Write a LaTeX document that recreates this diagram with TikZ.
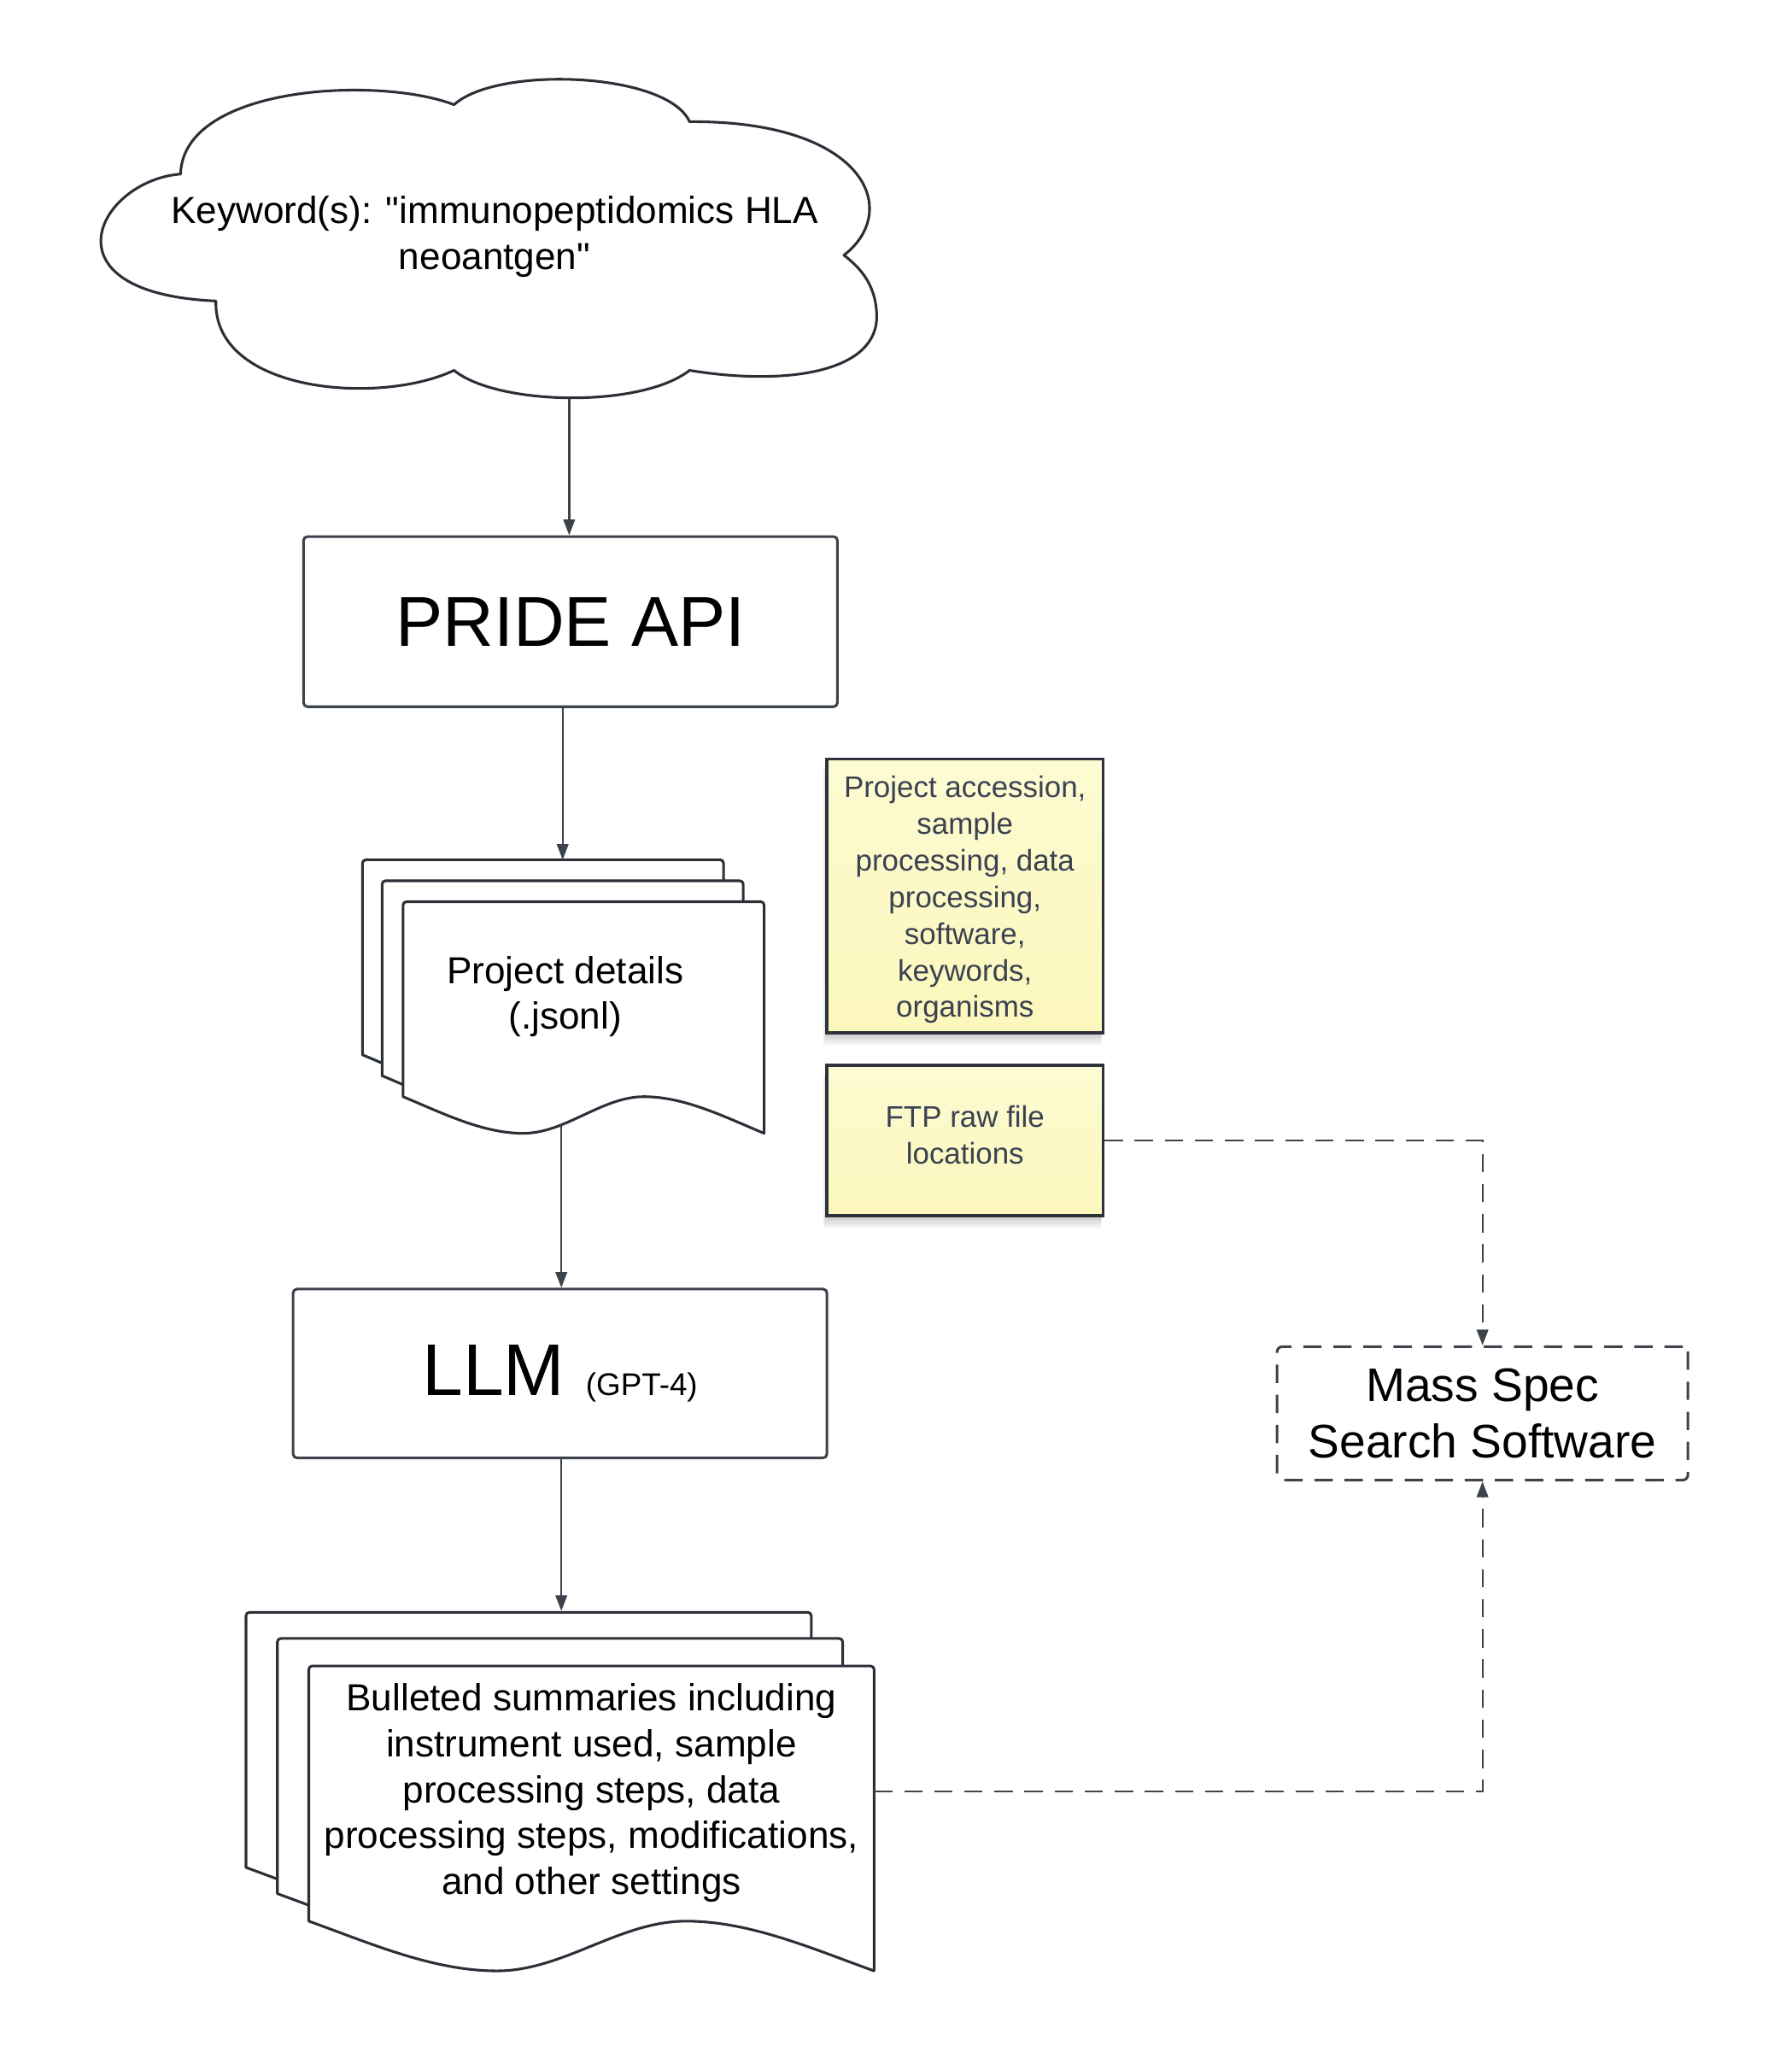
\documentclass[tikz,border=0pt]{standalone}
\usepackage{fontspec}
\setmainfont{Liberation Sans}
\usetikzlibrary{arrows.meta,calc}
\definecolor{lineg}{HTML}{3D434B}
\definecolor{darkl}{HTML}{2B2F36}
\definecolor{noteT}{HTML}{FDFBD2}
\definecolor{noteB}{HTML}{FBF7BC}
\definecolor{notetext}{HTML}{3A4150}
\definecolor{noteedge}{HTML}{2E333B}
\newcommand{\sq}{\XeTeXglyph\XeTeXcharglyph"22\relax}
\newcommand{\docpage}[5]{%
  \filldraw[docline] ({#1},{#2+#4}) [rounded corners=1.3pt] -- ({#1},{#2}) -- ({#1+#3},{#2}) -- ({#1+#3},{#2+8}) [sharp corners] -- ({#1+#3},{#2+#4+#5})
   .. controls ({#1+0.89*#3},{#2+#4+0.55*#5}) and ({#1+0.78*#3},{#2+#4}) .. ({#1+0.667*#3},{#2+#4})
   .. controls ({#1+0.55*#3},{#2+#4}) and ({#1+0.45*#3},{#2+#4+#5}) .. ({#1+0.333*#3},{#2+#4+#5})
   .. controls ({#1+0.22*#3},{#2+#4+#5}) and ({#1+0.11*#3},{#2+#4+0.45*#5}) .. ({#1},{#2+#4}) -- cycle;}
\begin{document}
\begin{tikzpicture}[x=0.5pt,y=-0.5pt,
  cloudline/.style={draw=darkl,line width=1pt,line join=round},
  docline/.style={draw=darkl,fill=white,line width=1pt,line join=round},
  procbox/.style={draw=lineg,line width=1pt,rounded corners=1.5pt,fill=white,inner sep=0pt,minimum width=204pt},
  bodytext/.style={align=center,font=\fontsize{14.4}{17.5}\selectfont,inner sep=0pt},
  notebox/.style={draw=noteedge,line width=1.2pt,top color=noteT,bottom color=noteB,minimum width=105.5pt,inner sep=0pt,align=center,text=notetext,font=\fontsize{11.4}{14}\selectfont},
  notetxt/.style={inner sep=0pt,align=center,text=notetext,font=\fontsize{11.4}{14}\selectfont},
  arr/.style={draw=lineg,line width=0.75pt,-{Triangle[length=6pt,width=4.4pt]}},
  dasharr/.style={draw=lineg,line width=0.75pt,dash pattern=on 7pt off 4.5pt,-{Triangle[length=6pt,width=4.4pt]}},
  massbox/.style={draw=lineg,line width=1pt,dash pattern=on 7pt off 4.5pt,rounded corners=2pt,minimum width=157pt,minimum height=51pt,inner sep=0pt,align=center,font=\fontsize{18}{21.5}\selectfont}
]
\useasboundingbox (0,0) rectangle (1369.5,1568);
\fill[white] (0,0) rectangle (1369.5,1568);

% cloud
\draw[cloudline,fill=white] (138,133) .. controls (75,138) and (30,224) .. (165,230)
 .. controls (163,300) and (290,310) .. (347,283)
 .. controls (380,310) and (490,312) .. (527,283)
 .. controls (600,295) and (672,285) .. (670,240)
 .. controls (669,215) and (655,203) .. (645,195)
 .. controls (690,160) and (660,92) .. (527,93)
 .. controls (510,55) and (380,50) .. (347,80)
 .. controls (290,58) and (140,65) .. (138,133) -- cycle;
\node[bodytext] (kw) at (378,181) {Keyword(s): \sq immunopeptidomics HLA\\neoantgen\sq};
\coordinate (kwbot) at (435,305);

% PRIDE API
\node[procbox,minimum height=65pt,font=\fontsize{27}{33}\selectfont] (pride) at (436,475) {PRIDE API};

% document stack 1
\docpage{277}{657}{276}{149}{28}
\docpage{292}{673}{276}{149}{28}
\docpage{308}{689}{276}{149}{28}
\node[bodytext] (docA) at (432,761.5) {Project details\\(.jsonl)};
\coordinate (docAtop) at (430,657);
\coordinate (docAbot) at (429,859);

% LLM
\node[procbox,minimum height=64.5pt] (llm) at (428,1049.5) {\raisebox{-1.5pt}{{\fontsize{28}{33}\selectfont LLM}\hspace{8pt}{\fontsize{12}{14}\selectfont (GPT-4)}}};

% document stack 2
\docpage{188}{1232}{432}{195}{38}
\docpage{212}{1252}{432}{195}{38}
\docpage{236}{1273}{432}{195}{38}
\node[bodytext] (docB) at (452,1370) {Bulleted summaries including\\instrument used, sample\\processing steps, data\\processing steps, modifications,\\and other settings};
\coordinate (docBtop) at (429,1231);
\coordinate (docBright) at (668,1369);

% note shadows
\foreach \s in {1,...,6}{
  \fill[black,opacity=0.035] ({632-0.5*\s},{580+1.5*\s}) rectangle ({843-0.3*\s},{789+1.6*\s});
  \fill[black,opacity=0.035] ({632-0.5*\s},{814+1.5*\s}) rectangle ({843-0.3*\s},{929+1.6*\s});
}
% notes
\node[notebox,minimum height=104.5pt] (noteA) at (737.5,684.5) {};
\node[notetxt] (noteAtext) at (737.5,687.5) {Project accession,\\sample\\processing, data\\processing,\\software,\\keywords,\\organisms};
\node[notebox,minimum height=57.5pt] (noteB) at (737.5,871.5) {};
\node[notetxt] (noteBtext) at (737.5,867) {FTP raw file\\locations};

% Mass spec
\node[massbox] (mass) at (1133,1080) {Mass Spec\\Search Software};

% connectors
\draw[arr] (kwbot) -- (kwbot |- pride.north);
\draw[arr] (pride.south -| docAtop) -- (docAtop);
\draw[arr] (docAbot) -- (docAbot |- llm.north);
\draw[arr] (llm.south -| docBtop) -- (docBtop);
\draw[dasharr] (noteB.east) -| (mass.north);
\draw[dasharr] (docBright) -| (mass.south);
\end{tikzpicture}
\end{document}
